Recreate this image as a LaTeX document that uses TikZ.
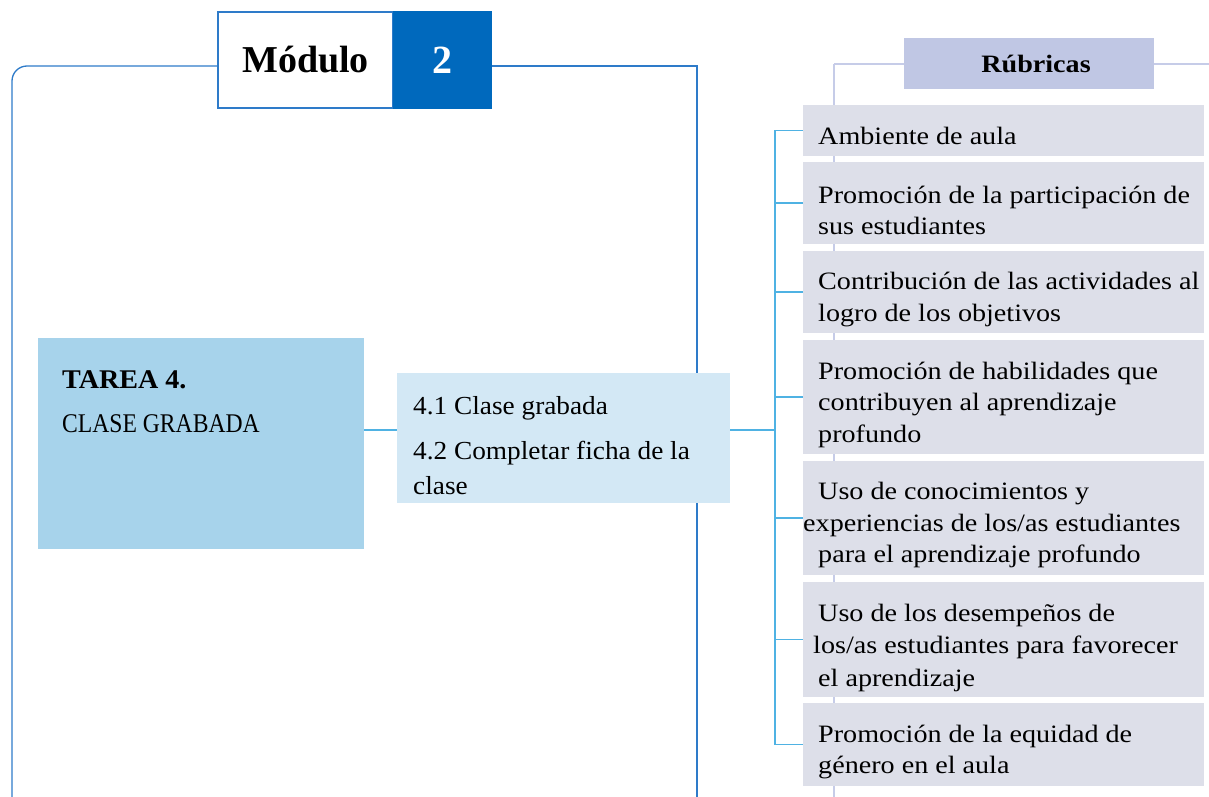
\documentclass[tikz,border=0pt]{standalone}
\usepackage{fontspec}
\setmainfont{Liberation Serif}
\newfontfamily\rubfont[FakeStretch=1.125]{Liberation Serif}
\newfontfamily\midfont[FakeStretch=1.05]{Liberation Serif}
\newfontfamily\tarfont[FakeStretch=0.875]{Liberation Serif}
\newfontfamily\tarbold[FakeStretch=1.04]{Liberation Serif}
\definecolor{modblue}{HTML}{0069BD}
\definecolor{frameblue}{HTML}{2E7BC9}
\definecolor{conn}{HTML}{4FB2E3}
\definecolor{tareafill}{HTML}{A7D3EB}
\definecolor{midfill}{HTML}{D3E8F5}
\definecolor{rubfill}{HTML}{DDDFE9}
\definecolor{headfill}{HTML}{C0C7E4}
\definecolor{pale}{HTML}{C6CCE8}
\begin{document}
\begin{tikzpicture}[x=1pt,y=-1pt,
  frame/.style={draw=frameblue,line width=1.3pt},
  connector/.style={draw=conn,line width=1.5pt},
  paleline/.style={draw=pale,line width=1.3pt},
  rub/.style={fill=rubfill,minimum width=401pt,inner sep=0pt},
  rubtxt/.style={anchor=west,align=left,inner sep=0pt,font=\rubfont\fontsize{25}{31.5}\selectfont},
  plain/.style={anchor=west,inner sep=0pt,font=\midfont\fontsize{26}{30}\selectfont}]
\useasboundingbox (0,0) rectangle (1209,797);
% outer frame
\draw[frame,rounded corners=15pt] (218,66) -- (12,66) -- (12,797);
\draw[frame] (492,66) -- (697,66) -- (697,797);
% Modulo header
\node[draw=frameblue,line width=1.3pt,fill=white,minimum width=175pt,minimum height=96pt,inner sep=0pt,
  font=\fontsize{38}{40}\selectfont\bfseries] (mod) at (305.5,60) {Módulo};
\node[fill=modblue,minimum width=99pt,minimum height=97.3pt,inner sep=0pt,text=white,
  font=\fontsize{40}{42}\selectfont\bfseries] (num) at (442.5,60) {2};
% pale lines (Rubricas)
\draw[paleline] (834,64) -- (834,797);
\draw[paleline] (834,64) -- (904,64);
\draw[paleline] (1154,64) -- (1209,64);
\node[fill=headfill,minimum width=250pt,minimum height=51pt,inner sep=0pt,
  font=\rubfont\fontsize{25}{30}\selectfont\bfseries] (head) at (1029,63.5) {\hspace*{14pt}Rúbricas};
% Tarea box
\node[fill=tareafill,minimum width=326pt,minimum height=211pt,inner sep=0pt] (tarea) at (201,443.5) {};
\node[plain,font=\tarbold\fontsize{27}{30}\selectfont\bfseries] (tareat) at (62,380) {TAREA 4.};
\node[plain,font=\tarfont\fontsize{27}{30}\selectfont] (tareas) at (62,424) {CLASE GRABADA};
% middle box
\node[fill=midfill,minimum width=333pt,minimum height=130pt,inner sep=0pt] (mid) at (563.5,438) {};
\node[plain] (m1) at (413,408) {4.1 Clase grabada};
\node[plain] (m2) at (413,453) {4.2 Completar ficha de la};
\node[plain] (m3) at (413,486) {clase};
% rubric boxes
\node[rub,minimum height=51pt] (r1) at (1003.5,130.5) {};
\node[rub,minimum height=82pt] (r2) at (1003.5,203) {};
\node[rub,minimum height=82pt] (r3) at (1003.5,292) {};
\node[rub,minimum height=114pt] (r4) at (1003.5,397) {};
\node[rub,minimum height=114pt] (r5) at (1003.5,518) {};
\node[rub,minimum height=115pt] (r6) at (1003.5,639.5) {};
\node[rub,minimum height=83pt] (r7) at (1003.5,744.5) {};
\node[rubtxt] (t1) at (818,136) {Ambiente de aula};
\node[rubtxt] (t2) at (818,210.5) {Promoción de la participación de\\sus estudiantes};
\node[rubtxt] (t3) at (818,299.5) {Contribución de las actividades al\\logro de los objetivos};
\node[rubtxt] (t4) at (818,404.5) {Promoción de habilidades que\\contribuyen al aprendizaje\\profundo};
\node[rubtxt] (t5) at (818,525) {Uso de conocimientos y\\\hspace*{-15pt}experiencias de los/as estudiantes\\para el aprendizaje profundo};
\node[rubtxt,font=\rubfont\fontsize{25}{32.5}\selectfont] (t6) at (818,647.5) {Uso de los desempeños de\\\hspace*{-5pt}los/as estudiantes para favorecer\\el aprendizaje};
\node[rubtxt] (t7) at (818,752) {Promoción de la equidad de\\género en el aula};
% connectors
\draw[connector] (tarea.east |- 0,430) -- (mid.west |- 0,430);
\draw[connector] (mid.east |- 0,430) -- (775,430) coordinate (bus);
\foreach \r in {r1,r2,r3,r4,r5,r6,r7}{
  \draw[connector] (bus) |- (\r.west);
}
\end{tikzpicture}
\end{document}
